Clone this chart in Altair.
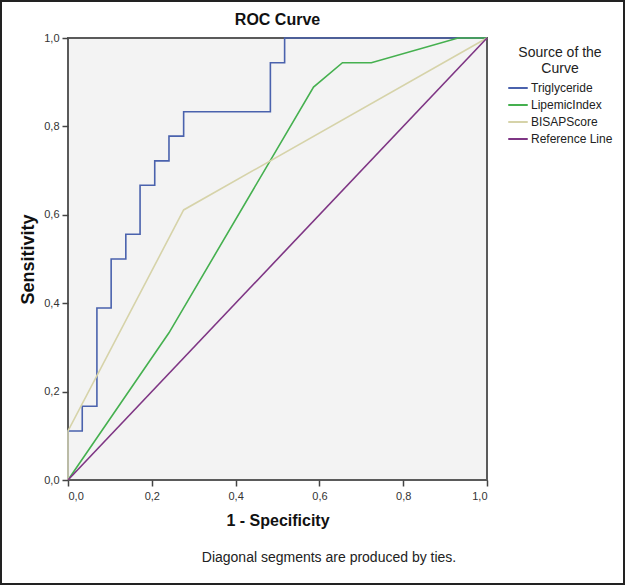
import altair as alt
import pandas as pd

# ---- data ----
series_names = ["Triglyceride", "LipemicIndex", "BISAPScore", "Reference Line"]
series_colors = ["#4a62ad", "#45b04f", "#d6d3a9", "#7e3584"]

tri_x = [0, 0, 0.034, 0.034, 0.069, 0.069, 0.103, 0.103, 0.138, 0.138, 0.172, 0.172,
         0.207, 0.207, 0.241, 0.241, 0.276, 0.276, 0.483, 0.483, 0.517, 0.517, 1.0]
tri_y = [0, 0.111, 0.111, 0.167, 0.167, 0.389, 0.389, 0.5, 0.5, 0.556, 0.556, 0.667,
         0.667, 0.722, 0.722, 0.778, 0.778, 0.833, 0.833, 0.944, 0.944, 1.0, 1.0]

lip_x = [0, 0.241, 0.586, 0.655, 0.724, 0.931, 1.0]
lip_y = [0, 0.333, 0.889, 0.944, 0.944, 1.0, 1.0]

bis_x = [0, 0, 0.276, 1.0]
bis_y = [0, 0.111, 0.611, 1.0]

ref_x = [0, 1.0]
ref_y = [0, 1.0]

tick_values = [0, 0.2, 0.4, 0.6, 0.8, 1.0]
TITLE = "ROC Curve"
FOOTNOTE = "Diagonal segments are produced by ties."

rows = []
for name, xs, ys in zip(series_names, [tri_x, lip_x, bis_x, ref_x], [tri_y, lip_y, bis_y, ref_y]):
    for i, (a, b) in enumerate(zip(xs, ys)):
        rows.append({"series": name, "fpr": a, "tpr": b, "order": i})
df = pd.DataFrame(rows)

FONT = "Liberation Sans"
label_expr = "replace(format(datum.value, '.1f'), '.', ',')"

lines = alt.Chart(df).mark_line(strokeWidth=1.6, clip=False).encode(
    x=alt.X("fpr:Q", scale=alt.Scale(domain=[0, 1], nice=False),
            axis=alt.Axis(values=tick_values, labelExpr=label_expr, title="1 - Specificity",
                          grid=False, domain=False, tickSize=6, tickColor="#444", tickWidth=1.5,
                          labelFont=FONT, labelFontSize=11, labelColor="#333", labelPadding=4,
                          titleFont=FONT, titleFontSize=16, titleFontWeight="bold",
                          titleColor="#111", titlePadding=11)),
    y=alt.Y("tpr:Q", scale=alt.Scale(domain=[0, 1], nice=False),
            axis=alt.Axis(values=tick_values, labelExpr=label_expr, title="Sensitivity",
                          grid=False, domain=False, tickSize=6, tickColor="#444", tickWidth=1.5,
                          labelFont=FONT, labelFontSize=11, labelColor="#333", labelPadding=3,
                          titleFont=FONT, titleFontSize=18, titleFontWeight="bold",
                          titleColor="#111", titlePadding=6)),
    color=alt.Color("series:N", scale=alt.Scale(domain=series_names, range=series_colors),
                    sort=series_names,
                    legend=alt.Legend(title=["Source of the", "Curve"], orient="none",
                                      legendX=439, legendY=8,
                                      titleFont=FONT, titleFontSize=14, titleFontWeight="normal",
                                      titleColor="#222", titleAnchor="middle", titleAlign="center",
                                      titlePadding=1, titleLineHeight=16,
                                      labelFont=FONT, labelFontSize=12, labelColor="#222",
                                      labelOffset=2, symbolType="stroke", symbolSize=380,
                                      symbolStrokeWidth=2, rowPadding=0)),
    order="order:Q",
)

title = alt.Chart(pd.DataFrame({"t": [TITLE]})).mark_text(
    font=FONT, fontSize=16, fontWeight="bold", color="#111", align="center", baseline="middle"
).encode(text="t:N", x=alt.value(209.5), y=alt.value(-18))

note = alt.Chart(pd.DataFrame({"note": [FOOTNOTE]})).mark_text(
    font=FONT, fontSize=14, color="#222", align="center", baseline="middle"
).encode(text="note:N", x=alt.value(261), y=alt.value(520))

frame = alt.Chart(pd.DataFrame({"note": [FOOTNOTE]})).mark_rect(
    fill=None, stroke="#222", strokeWidth=2, clip=False
).encode(x=alt.value(-67), x2=alt.value(556), y=alt.value(-37), y2=alt.value(546))

chart = alt.layer(lines, title, note, frame).properties(
    width=419, height=442,
    padding={"left": 68, "top": 38, "right": 138, "bottom": 105},
    autosize=alt.AutoSizeParams(type="none"),
    background="white",
).configure_view(fill="#f3f3f3", stroke="#5a5a5a", strokeWidth=2)

chart.save("out.html", embed_options={"renderer": "svg", "actions": False})
